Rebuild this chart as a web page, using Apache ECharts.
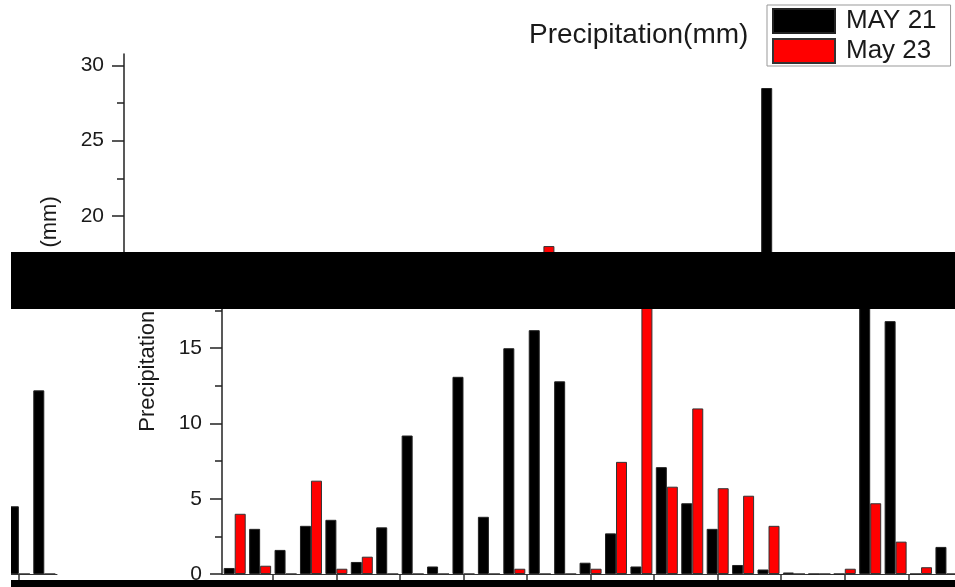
<!DOCTYPE html>
<html>
<head>
<meta charset="utf-8">
<script src="https://cdn.jsdelivr.net/npm/echarts@6/dist/echarts.min.js"></script>
<style>
  html, body { margin: 0; padding: 0; background: #fff; }
  .clip { position: absolute; overflow: hidden; }
  .chart { position: absolute; width: 955px; height: 587px; }
  .bar { position: absolute; background: #000; }
</style>
</head>
<body>
<div class="clip" style="left:0;top:0;width:955px;height:252px">
  <div id="c0" class="chart" style="left:0;top:0"></div>
</div>
<div class="clip" style="left:11px;top:309px;width:944px;height:278px">
  <div id="c1" class="chart" style="left:87px;top:-252px"></div>
  <div id="c2" class="chart" style="left:-866px;top:-252px"></div>
</div>
<div class="bar" style="left:11px;top:252px;width:944px;height:57px"></div>
<div class="bar" style="left:11px;top:580px;width:944px;height:7px"></div>
<script>
// daily precipitation, one value per day slot (index 0..30)
var may21 = [0.4, 3.0, 1.6, 3.2, 3.6, 0.8, 3.1, 9.2, 0.5, 13.1, 3.8, 15.0, 16.2, 12.8, 0.75, 2.7,
             0.5, 7.1, 4.7, 3.0, 0.6, 0.3, 0.1, 0, 0, 28.5, 16.8, 0, 1.8, 4.5, 12.2];
var may23 = [4.0, 0.55, 0, 6.2, 0.35, 1.15, 0, 0, 0, 0, 0, 0.35, 0, 0, 0.35, 7.45,
             18.0, 5.8, 11.0, 5.7, 5.2, 3.2, 0, 0, 0.35, 4.7, 2.15, 0.45, 0, 0, 0];
var yLabels = [0, 5, 10, 15, 20, 25, 30];
var yMinor = [2.5, 7.5, 12.5, 17.5, 22.5, 27.5];
var xTicks = [1.5, 4, 6.5, 9, 11.5, 14, 16.5, 19, 21.5, 24, 26.5, 29];

var font = 'Liberation Sans, Arial, sans-serif';

function pairs(arr) {
	return arr.map(function (v, i) { return [i, v]; });
}

function buildOption() {
	return {
		animation: false,
		textStyle: { fontFamily: font },
		title: {
			text: 'Precipitation(mm)',
			left: 529,
			top: 21,
			padding: 0,
			textStyle: { fontSize: 28, fontWeight: 'normal', color: '#1a1a1a', fontFamily: font }
		},
		legend: {
			orient: 'vertical',
			left: 767,
			top: 5,
			padding: [3, 14, 2, 5],
			itemGap: 4,
			itemWidth: 62,
			itemHeight: 24,
			icon: 'rect',
			borderColor: '#999',
			borderWidth: 1,
			textStyle: { fontSize: 26, color: '#1a1a1a', fontFamily: font, padding: [0, 0, 0, 6] },
			data: ['MAY 21', 'May 23']
		},
		grid: { left: 124, right: 43, top: 54, bottom: 70 },
		xAxis: {
			type: 'value',
			min: -0.5,
			max: 30.5,
			axisLine: { show: true, onZero: false, lineStyle: { color: '#333', width: 1 } },
			axisTick: { show: true, length: 6, customValues: xTicks, lineStyle: { color: '#333', width: 1.5 } },
			axisLabel: { show: false },
			splitLine: { show: false }
		},
		yAxis: [{
			type: 'value',
			min: 0,
			max: 30.76,
			name: 'Precipitation (mm)',
			nameLocation: 'middle',
			nameGap: 63,
			nameTextStyle: { fontSize: 22, color: '#1a1a1a', fontFamily: font },
			axisLine: { show: true, onZero: false, lineStyle: { color: '#222', width: 1.5 } },
			axisTick: { show: true, length: 12, customValues: yLabels, lineStyle: { color: '#222', width: 1.5 } },
			axisLabel: { customValues: yLabels, margin: 20, fontSize: 21, color: '#1a1a1a', fontFamily: font },
			splitLine: { show: false }
		}, {
			type: 'value',
			position: 'left',
			min: 0,
			max: 30.76,
			axisLine: { show: false, onZero: false },
			axisTick: { show: true, length: 7, customValues: yMinor, lineStyle: { color: '#222', width: 1.5 } },
			axisLabel: { show: false },
			splitLine: { show: false }
		}],
		series: [{
			name: 'MAY 21',
			type: 'bar',
			barWidth: 11,
			barGap: '0%',
			data: pairs(may21),
			itemStyle: { color: '#000', borderColor: '#222', borderWidth: 1 }
		}, {
			name: 'May 23',
			type: 'bar',
			barWidth: 11,
			barGap: '0%',
			data: pairs(may23),
			itemStyle: { color: '#ff0000', borderColor: '#333', borderWidth: 1 }
		}]
	};
}

['c0', 'c1', 'c2'].forEach(function (id) {
	var chart = echarts.init(document.getElementById(id));
	chart.setOption(buildOption());
});
</script>
</body>
</html>
